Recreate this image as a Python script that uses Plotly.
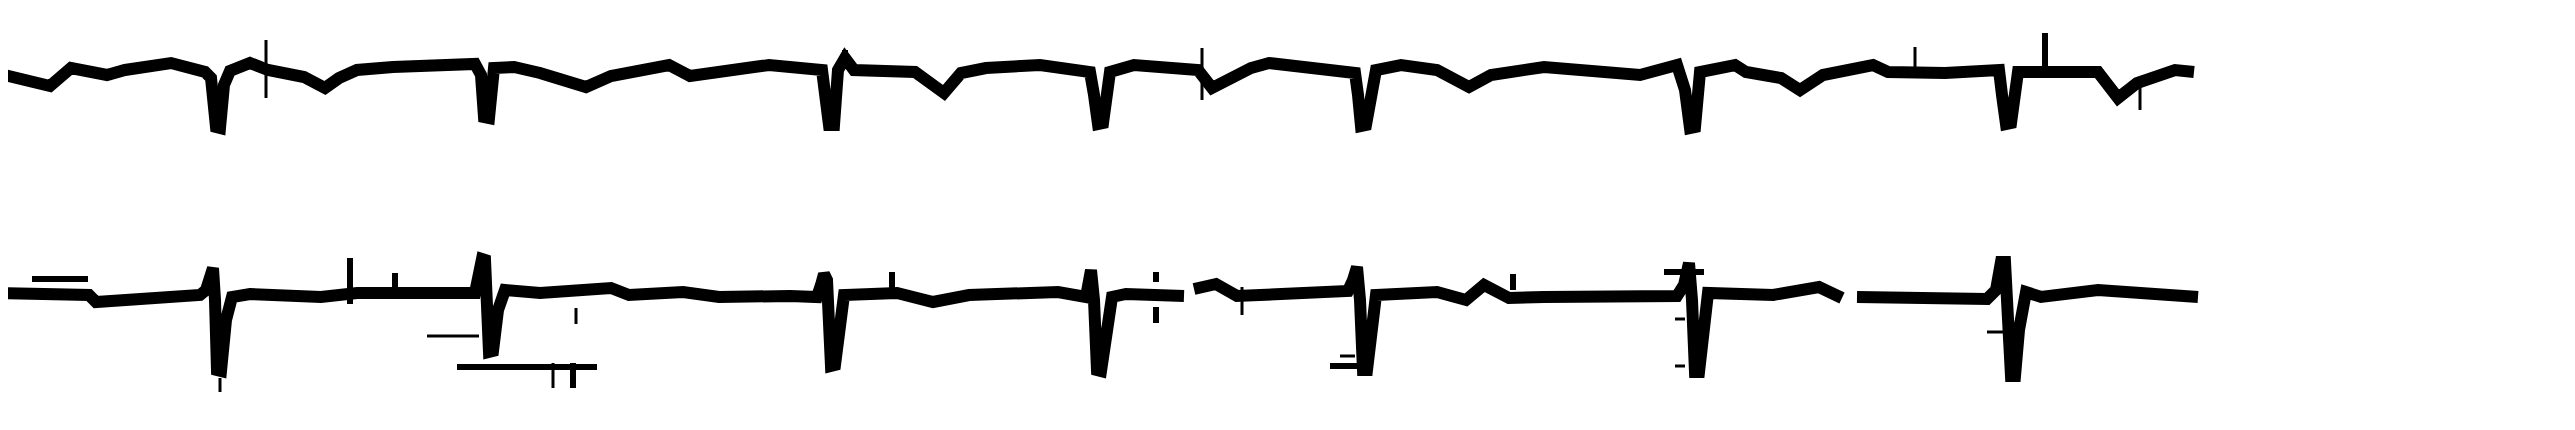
import plotly.graph_objects as go

# Upper strip: time position and level (screen-like units, larger = lower)
lead_a_t = [0, 20, 50, 71, 107, 125, 171, 205, 211, 216, 220, 224, 230, 250, 268, 304, 325, 339, 357, 393,
            443, 475, 481, 484, 489, 494, 514, 540, 586, 611, 669, 690, 754, 769, 822, 826, 829, 834, 838, 845,
            854, 915, 944, 961, 986, 1040, 1090, 1094, 1098, 1103, 1110, 1134, 1198, 1212, 1251, 1269, 1330, 1355, 1358, 1361,
            1366, 1376, 1401, 1437, 1469, 1491, 1544, 1640, 1677, 1685, 1690, 1695, 1700, 1735, 1746, 1781, 1800, 1823, 1873, 1888,
            1945, 1999, 2002, 2006, 2011, 2018, 2098, 2118, 2137, 2175, 2194]
lead_a_v = [74, 78, 86, 68, 75, 70, 63, 72, 78, 127, 128, 85, 71, 63, 70, 77, 88, 78, 70, 67,
            65, 64, 75, 117, 118, 68, 67, 73, 87, 76, 65, 76, 67, 65, 70, 95, 125, 125, 70, 58,
            70, 72, 93, 73, 68, 65, 72, 95, 124, 123, 72, 65, 70, 88, 68, 63, 68, 73, 95, 126,
            125, 70, 65, 70, 87, 75, 67, 75, 65, 90, 128, 127, 72, 65, 72, 78, 90, 75, 65, 72,
            73, 70, 95, 124, 123, 72, 72, 98, 83, 70, 72]

# Lower strip (two short pen lifts)
lead_b_t = [0, 32, 89, 96, 179, 200, 206, 210, 213, 215, 217, 221, 226, 232, 250, 321, 357, 475, 479, 482,
            485, 487, 489, 493, 498, 505, 527, 540, 611, 629, 683, 719, 790, 817, 821, 824, 827, 829, 831, 835,
            840, 844, 897, 933, 969, 1058, 1086, 1088, 1091, 1094, 1097, 1101, 1106, 1112, 1126, 1184, 1194, 1216, 1237, 1294,
            1348, 1353, 1357, 1360, 1363, 1367, 1371, 1376, 1437, 1466, 1484, 1509, 1544, 1640, 1677, 1684, 1689, 1692, 1695, 1699,
            1703, 1708, 1773, 1819, 1842, 1857, 1964, 1987, 1996, 2001, 2005, 2008, 2011, 2015, 2019, 2026, 2041, 2098, 2137, 2198]
lead_b_v = [293, 293, 295, 302, 297, 295, 290, 272, 268, 300, 370, 371, 320, 297, 294, 297, 293, 293, 275, 259,
            260, 320, 352, 351, 310, 290, 292, 293, 288, 295, 292, 297, 296, 297, 285, 274, 280, 340, 366, 365,
            320, 295, 293, 302, 295, 292, 297, 280, 270, 300, 370, 371, 330, 297, 294, 296, 289, 284, 296, 294,
            291, 280, 267, 300, 370, 370, 330, 295, 292, 300, 285, 298, 297, 297, 296, 285, 263, 300, 372, 372,
            330, 293, 295, 287, 298, 297, 298, 299, 290, 262, 262, 330, 376, 376, 330, 292, 297, 290, 293, 297]
lead_b_breaks = [1184, 1842]

# Stray pen marks: heavy and fine strokes (x0, x1, y0, y1)
heavy_x0 = [32, 457, 573, 350, 2045, 1664, 1330, 1156, 1156, 892, 395, 1513, 845]
heavy_x1 = [88, 597, 573, 350, 2045, 1704, 1359, 1156, 1156, 892, 395, 1513, 845]
heavy_y0 = [279, 367, 363, 258, 33, 272, 366, 272, 307, 272, 273, 274, 50]
heavy_y1 = [279, 367, 388, 304, 74, 272, 366, 282, 323, 288, 289, 290, 60]

fine_x0 = [266, 1202, 1915, 2140, 427, 553, 220, 1987, 1340, 1675, 1675, 1242, 576]
fine_x1 = [266, 1202, 1915, 2140, 479, 553, 220, 2003, 1355, 1685, 1685, 1242, 576]
fine_y0 = [40, 48, 47, 80, 336, 363, 378, 332, 356, 319, 366, 287, 308]
fine_y1 = [98, 100, 70, 110, 336, 388, 392, 332, 356, 319, 366, 315, 324]


def broken(t, v, breaks):
    xs, ys = [], []
    for a, b in zip(t, v):
        xs.append(a)
        ys.append(b)
        if a in breaks:
            xs.append(None)
            ys.append(None)
    return xs, ys


def segments(x0, x1, y0, y1):
    xs, ys = [], []
    for a, b, c, d in zip(x0, x1, y0, y1):
        xs += [a, b, None]
        ys += [c, d, None]
    return xs, ys


bx, by = broken(lead_b_t, lead_b_v, lead_b_breaks)
hx, hy = segments(heavy_x0, heavy_x1, heavy_y0, heavy_y1)
fx, fy = segments(fine_x0, fine_x1, fine_y0, fine_y1)

fig = go.Figure()
fig.add_trace(go.Scatter(x=lead_a_t, y=lead_a_v, mode="lines",
                         line=dict(color="black", width=12), showlegend=False, hoverinfo="skip"))
fig.add_trace(go.Scatter(x=bx, y=by, mode="lines", connectgaps=False,
                         line=dict(color="black", width=12), showlegend=False, hoverinfo="skip"))
fig.add_trace(go.Scatter(x=hx, y=hy, mode="lines", connectgaps=False,
                         line=dict(color="black", width=6), showlegend=False, hoverinfo="skip"))
fig.add_trace(go.Scatter(x=fx, y=fy, mode="lines", connectgaps=False,
                         line=dict(color="black", width=3), showlegend=False, hoverinfo="skip"))

fig.update_layout(width=2575, height=430, margin=dict(l=0, r=0, t=0, b=0),
                  paper_bgcolor="white", plot_bgcolor="white")
# page body adds an 8px offset; shift ranges so values line up with the page pixels
fig.update_xaxes(range=[8, 2583], visible=False)
fig.update_yaxes(range=[438, 8], visible=False)
fig.write_html("out.html")
